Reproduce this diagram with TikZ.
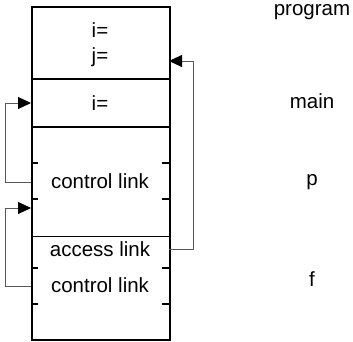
\documentclass[tikz,border=0pt]{standalone}
\usepackage{fontspec}
\setmainfont{Liberation Sans}
\usetikzlibrary{arrows.meta}
\begin{document}
\begin{tikzpicture}[x=1pt,y=-1pt,
  txt/.style={anchor=base,inner sep=0pt,font=\fontsize{20.5}{24}\selectfont},
  frame/.style={draw=black,line width=1.6pt},
  sep/.style={draw=black,line width=1.2pt},
  thicksep/.style={draw=black,line width=2.4pt},
  tick/.style={draw=black,line width=1.4pt},
  link/.style={draw=black!65,line width=1pt,-{Triangle[length=13pt,width=12pt,color=black]}}]
\useasboundingbox (0,0) rectangle (353,341);
% stack frame box
\node[frame,rectangle,minimum width=138pt,minimum height=333pt,inner sep=0pt,anchor=north west] (stack) at (31,6) {};
\draw[sep] (stack.west |- 0,79) coordinate (s1l) -- (stack.east |- 0,79) coordinate (s1r);
\draw[thicksep] (stack.west |- 0,127) coordinate (s2l) -- (stack.east |- 0,127) coordinate (s2r);
\draw[sep,line width=1pt] (stack.west |- 0,236) coordinate (s3l) -- (stack.east |- 0,236) coordinate (s3r);
\foreach \y in {163,199,268,304}{
  \draw[tick] (31,\y) -- (38,\y);
  \draw[tick] (169,\y) -- (162,\y);
}
% texts
\node[txt] (pi) at (100,37) {i=};
\node[txt] (pj) at (100,62) {j=};
\node[txt] (mi) at (100,110) {i=};
\node[txt] (pcl) at (100,188) {control link};
\node[txt] (fal) at (100,256) {access link};
\node[txt] (fcl) at (100,292) {control link};
% right labels
\node[txt] (lprog) at (312,15) {program};
\node[txt] (lmain) at (312,108) {main};
\node[txt] (lp) at (312,185) {p};
\node[txt] (lf) at (312,286) {f};
% connector anchors
\coordinate (pclL) at (31,182);
\coordinate (mainL) at (31,103);
\coordinate (fclL) at (31,286);
\coordinate (pL) at (31,208);
\coordinate (falR) at (169,249);
\coordinate (progR) at (169,61);
\draw[link] (pclL) -- (5,182) -- (5,103) -- (mainL);
\draw[link] (fclL) -- (5,286) -- (5,208) -- (pL);
\draw[link] (falR) -- (193,249) -- (193,61) -- (progR);
\end{tikzpicture}
\end{document}
